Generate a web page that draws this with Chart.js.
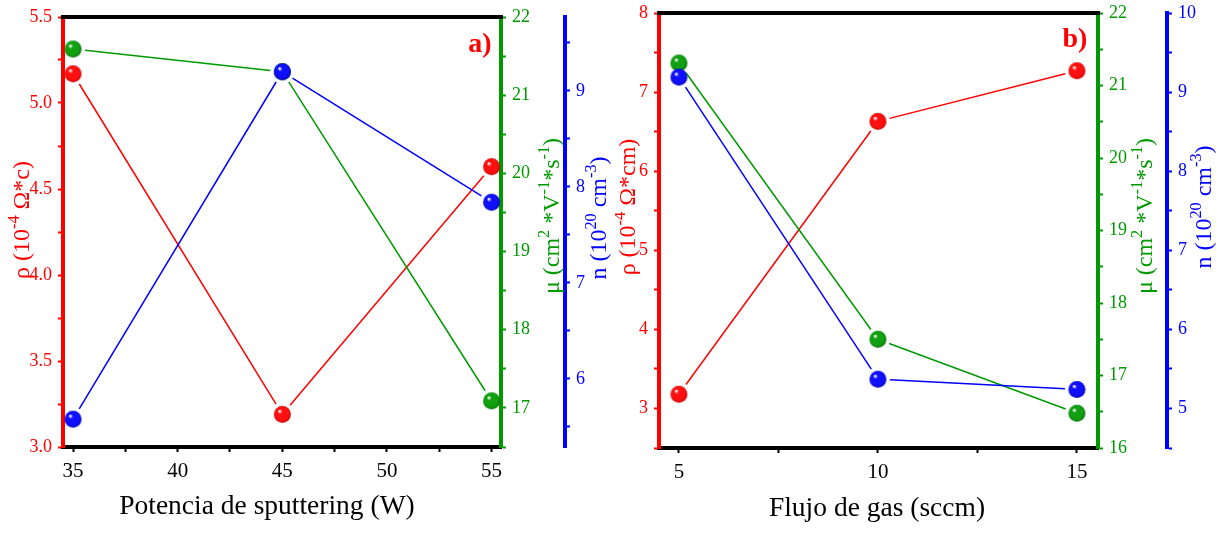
<!DOCTYPE html>
<html>
<head>
<meta charset="utf-8">
<script src="https://cdn.jsdelivr.net/npm/chart.js@4/dist/chart.umd.min.js"></script>
<style>
  html, body { margin: 0; padding: 0; background: #fff; }
  #wrap { position: relative; width: 1218px; height: 533px; }
  #chartA { position: absolute; left: 0; top: 0; }
  #chartB { position: absolute; left: 615px; top: 0; }
</style>
</head>
<body>
<div id="wrap">
  <canvas id="chartA" width="615" height="533"></canvas>
  <canvas id="chartB" width="603" height="533"></canvas>
</div>
<script>
// panel a) potencia de sputtering
const potencia = [35, 45, 55];
const rhoA = [5.17, 3.19, 4.63];
const muA = [21.59, 21.3, 17.09];
const nA = [5.58, 9.2, 7.84];

// panel b) flujo de gas
const flujo = [5, 10, 15];
const rhoB = [3.18, 6.63, 7.27];
const muB = [21.31, 17.5, 16.48];
const nB = [9.19, 5.37, 5.24];

// ticks (mayores / menores)
const xTicksA = [35, 40, 45, 50, 55];
const xMinorA = [37.5, 42.5, 47.5, 52.5];
const rhoTicksA = [3.0, 3.5, 4.0, 4.5, 5.0, 5.5];
const rhoMinorA = [3.25, 3.75, 4.25, 4.75, 5.25];
const muTicksA = [17, 18, 19, 20, 21, 22];
const muMinorA = [16.5, 17.5, 18.5, 19.5, 20.5, 21.5];
const nTicksA = [6, 7, 8, 9];
const nMinorA = [5.5, 6.5, 7.5, 8.5, 9.5];

const xTicksB = [5, 10, 15];
const xMinorB = [7.5, 12.5];
const rhoTicksB = [3, 4, 5, 6, 7, 8];
const rhoMinorB = [2.5, 3.5, 4.5, 5.5, 6.5, 7.5];
const muTicksB = [16, 17, 18, 19, 20, 21, 22];
const muMinorB = [16.5, 17.5, 18.5, 19.5, 20.5, 21.5];
const nTicksB = [5, 6, 7, 8, 9, 10];
const nMinorB = [4.5, 5.5, 6.5, 7.5, 8.5, 9.5];

// títulos: [texto, superíndice?]
const tituloRhoA = [['ρ (10', 0], ['-4', 1], [' Ω*c)', 0]];
const tituloRhoB = [['ρ (10', 0], ['-4', 1], [' Ω*cm)', 0]];
const tituloMu = [['μ (cm', 0], ['2', 1], [' *V', 0], ['-1', 1], ['*s', 0], ['-1', 1], [')', 0]];
const tituloN = [['n (10', 0], ['20', 1], [' cm', 0], ['-3', 1], [')', 0]];

const ROJO = '#ff0000';
const VERDE = '#009900';
const AZUL = '#0000ff';
const FUENTE = "'Liberation Serif', 'Times New Roman', serif";

// esfera brillante como marcador
function esfera(color, oscuro) {
  const c = document.createElement('canvas');
  c.width = 19; c.height = 19;
  const ctx = c.getContext('2d');
  const g = ctx.createRadialGradient(6.6, 6.1, 0.5, 9.5, 9.5, 9);
  g.addColorStop(0, '#ffffff');
  g.addColorStop(0.22, color);
  g.addColorStop(0.75, color);
  g.addColorStop(1, oscuro);
  ctx.fillStyle = g;
  ctx.beginPath();
  ctx.arc(9.5, 9.5, 8.5, 0, Math.PI * 2);
  ctx.fill();
  return c;
}
const esferaRoja = esfera('#ff1010', '#b00000');
const esferaVerde = esfera('#10a010', '#006000');
const esferaAzul = esfera('#1010ff', '#0000a0');

function serie(data, xs, color, punto, eje, orden) {
  return {
    data: xs.map((x, i) => ({ x: x, y: data[i] })),
    borderColor: color,
    borderWidth: 1.5,
    showLine: false,
    pointStyle: punto,
    pointRadius: 8.5,
    yAxisID: eje,
    order: orden,
    clip: false
  };
}

function ejeY(pos, color, min, max, mayores, menores, ancho, decimales) {
  const todos = mayores.concat(menores).sort((a, b) => a - b);
  return {
    type: 'linear',
    position: pos,
    min: min,
    max: max,
    afterBuildTicks: s => { s.ticks = todos.map(v => ({ value: v })); },
    afterFit: s => { s.width = ancho; s.paddingTop = 0; s.paddingBottom = 0; },
    border: { display: true, color: color, width: 4 },
    grid: { drawOnChartArea: false, drawTicks: true, tickLength: 5, tickWidth: 2, color: color },
    ticks: {
      color: color,
      padding: 6,
      font: { family: FUENTE, size: 18 },
      callback: v => mayores.some(m => Math.abs(m - v) < 1e-6) ? v.toFixed(decimales) : ''
    }
  };
}

function ejeX(min, max, mayores, menores, alto) {
  const todos = mayores.concat(menores).sort((a, b) => a - b);
  return {
    type: 'linear',
    position: 'bottom',
    min: min,
    max: max,
    afterBuildTicks: s => { s.ticks = todos.map(v => ({ value: v })); },
    afterFit: s => { s.height = alto; s.paddingLeft = 0; s.paddingRight = 0; },
    border: { display: true, color: '#000', width: 4 },
    grid: { drawOnChartArea: false, drawTicks: true, tickLength: 5, tickWidth: 2, color: '#000' },
    ticks: {
      color: '#000',
      padding: 7,
      maxRotation: 0,
      autoSkip: false,
      font: { family: FUENTE, size: 21 },
      callback: v => mayores.includes(v) ? String(v) : ''
    }
  };
}

// texto con superíndices, girado -90° y centrado en (cx, cy)
function textoVertical(ctx, partes, cx, cy, color, tam) {
  const sup = tam * 0.68;
  let total = 0;
  const anchos = partes.map(p => {
    ctx.font = (p[1] ? sup : tam) + 'px ' + FUENTE;
    const w = ctx.measureText(p[0]).width;
    total += w;
    return w;
  });
  ctx.save();
  ctx.translate(cx, cy);
  ctx.rotate(-Math.PI / 2);
  ctx.fillStyle = color;
  ctx.textBaseline = 'alphabetic';
  ctx.textAlign = 'left';
  let x = -total / 2;
  const base = tam * 0.33;
  partes.forEach((p, i) => {
    ctx.font = (p[1] ? sup : tam) + 'px ' + FUENTE;
    ctx.fillText(p[0], x, p[1] ? base - tam * 0.42 : base);
    x += anchos[i];
  });
  ctx.restore();
}

// líneas con hueco alrededor de los marcadores, borde superior, títulos y etiqueta
function decorar(cfg) {
  return {
    id: 'decorar' + cfg.etiqueta,
    beforeDatasetsDraw(chart) {
      const ctx = chart.ctx;
      const hueco = 12;
      ctx.save();
      chart.data.datasets.forEach((ds, i) => {
        const pts = chart.getDatasetMeta(i).data;
        ctx.strokeStyle = ds.borderColor;
        ctx.lineWidth = ds.borderWidth;
        for (let k = 0; k < pts.length - 1; k++) {
          const p = pts[k], q = pts[k + 1];
          const dx = q.x - p.x, dy = q.y - p.y;
          const d = Math.hypot(dx, dy);
          if (d < 2 * hueco) continue;
          const ux = dx / d, uy = dy / d;
          ctx.beginPath();
          ctx.moveTo(p.x + ux * hueco, p.y + uy * hueco);
          ctx.lineTo(q.x - ux * hueco, q.y - uy * hueco);
          ctx.stroke();
        }
      });
      ctx.restore();
    },
    afterDraw(chart) {
      const a = chart.chartArea;
      const ctx = chart.ctx;
      ctx.save();
      ctx.strokeStyle = '#000';
      ctx.lineWidth = 4;
      ctx.beginPath();
      ctx.moveTo(a.left - 2, a.top);
      ctx.lineTo(a.right + 2, a.top);
      ctx.stroke();

      ctx.fillStyle = ROJO;
      ctx.font = 'bold 28px ' + FUENTE;
      ctx.textAlign = 'center';
      ctx.textBaseline = 'middle';
      ctx.fillText(cfg.etiqueta, a.right - cfg.etq[0], a.top + cfg.etq[1]);

      ctx.fillStyle = '#000';
      ctx.font = '27.5px ' + FUENTE;
      ctx.textBaseline = 'alphabetic';
      ctx.fillText(cfg.tituloX, cfg.xt[0], cfg.xt[1]);

      textoVertical(ctx, cfg.rho, cfg.pr[0], cfg.pr[1], ROJO, 24);
      textoVertical(ctx, tituloMu, cfg.pm[0], cfg.pm[1], VERDE, 24);
      textoVertical(ctx, tituloN, cfg.pn[0], cfg.pn[1], AZUL, 24);
      ctx.restore();
    }
  };
}

new Chart(document.getElementById('chartA'), {
  type: 'line',
  data: {
    datasets: [
      serie(rhoA, potencia, ROJO, esferaRoja, 'y', 2),
      serie(muA, potencia, VERDE, esferaVerde, 'y2', 3),
      serie(nA, potencia, AZUL, esferaAzul, 'y3', 1)
    ]
  },
  options: {
    responsive: false,
    animation: false,
    layout: { padding: { top: 17, left: 0, right: 0, bottom: 0 } },
    plugins: { legend: { display: false }, tooltip: { enabled: false } },
    scales: {
      x: ejeX(34.52, 55.45, xTicksA, xMinorA, 86),
      y: ejeY('left', ROJO, 3.0, 5.5, rhoTicksA, rhoMinorA, 63, 1),
      y2: ejeY('right', VERDE, 16.5, 22, muTicksA, muMinorA, 64, 0),
      y3: ejeY('right', AZUL, 5.29, 9.77, nTicksA, nMinorA, 50, 0)
    }
  },
  plugins: [decorar({
    etiqueta: 'a)', etq: [21, 28],
    tituloX: 'Potencia de sputtering (W)', xt: [267, 514],
    rho: tituloRhoA, pr: [21, 220], pm: [551, 216], pn: [598, 218]
  })]
});

new Chart(document.getElementById('chartB'), {
  type: 'line',
  data: {
    datasets: [
      serie(rhoB, flujo, ROJO, esferaRoja, 'y', 2),
      serie(muB, flujo, VERDE, esferaVerde, 'y2', 3),
      serie(nB, flujo, AZUL, esferaAzul, 'y3', 1)
    ]
  },
  options: {
    responsive: false,
    animation: false,
    layout: { padding: { top: 13, left: 0, right: 0, bottom: 0 } },
    plugins: { legend: { display: false }, tooltip: { enabled: false } },
    scales: {
      x: ejeX(4.5, 15.53, xTicksB, xMinorB, 85),
      y: ejeY('left', ROJO, 2.5, 8, rhoTicksB, rhoMinorB, 44, 0),
      y2: ejeY('right', VERDE, 16, 22, muTicksB, muMinorB, 69, 0),
      y3: ejeY('right', AZUL, 4.5, 10, nTicksB, nMinorB, 51, 0)
    }
  },
  plugins: [decorar({
    etiqueta: 'b)', etq: [23, 27],
    tituloX: 'Flujo de gas (sccm)', xt: [262, 516],
    rho: tituloRhoB, pr: [12, 207], pm: [529, 216], pn: [588, 207]
  })]
});
</script>
</body>
</html>
